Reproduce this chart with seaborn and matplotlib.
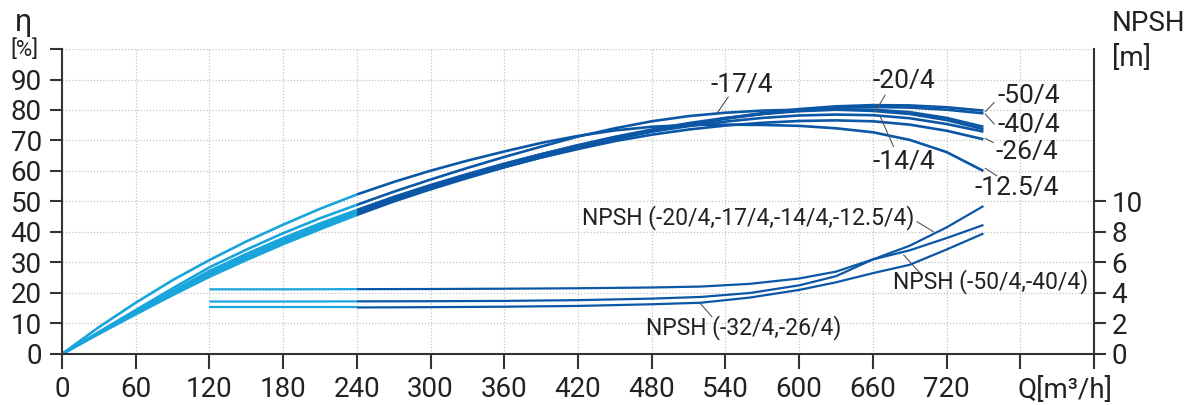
import numpy as np
import pandas as pd
import matplotlib
matplotlib.use('Agg')
import matplotlib.pyplot as plt
import seaborn as sns

# flow rate Q [m3/h]
q = [0, 30, 60, 90, 120, 150, 180, 210, 240, 270, 300, 330, 360, 390, 420,
     450, 480, 510, 540, 570, 600, 630, 660, 690, 720, 750]

# efficiency curves [%], one per impeller
eta_50 = [0, 6.6, 13.0, 19.3, 25.3, 30.8, 36.0, 40.9, 45.6, 50.0, 54.0, 57.7, 61.2, 64.5, 67.6,
          70.4, 73.0, 75.3, 77.3, 79.0, 80.3, 81.2, 81.6, 81.5, 80.9, 79.8]
eta_40 = [0, 6.7, 13.3, 19.7, 25.8, 31.3, 36.5, 41.4, 46.0, 50.4, 54.4, 58.1, 61.6, 64.8, 67.8,
          70.5, 73.0, 75.2, 77.1, 78.7, 79.9, 80.7, 81.0, 80.8, 80.1, 78.9]
eta_26 = [0, 6.8, 13.5, 20.0, 26.2, 31.8, 37.0, 41.9, 46.4, 50.6, 54.5, 58.0, 61.3, 64.4, 67.2,
          69.8, 71.9, 73.6, 74.9, 75.8, 76.4, 76.6, 76.3, 75.2, 73.2, 70.4]
eta_20 = [0, 6.9, 13.7, 20.3, 26.7, 32.3, 37.5, 42.3, 46.8, 51.1, 55.1, 58.8, 62.3, 65.5, 68.5,
          71.2, 73.6, 75.7, 77.4, 78.7, 79.6, 80.1, 80.1, 79.3, 77.4, 74.5]
eta_17 = [0, 7.2, 14.4, 21.5, 28.4, 34.2, 39.6, 44.5, 48.9, 53.2, 57.2, 61.0, 64.6, 68.0, 71.3,
          74.0, 76.3, 78.0, 79.1, 79.8, 80.1, 80.1, 79.7, 78.7, 76.7, 73.7]
eta_14 = [0, 7.0, 13.9, 20.6, 27.2, 32.8, 38.0, 42.8, 47.2, 51.5, 55.4, 59.0, 62.4, 65.5, 68.3,
          70.8, 72.9, 74.7, 76.2, 77.4, 78.2, 78.5, 78.3, 77.3, 75.4, 72.9]
eta_125 = [0, 8.8, 16.8, 24.2, 30.8, 36.9, 42.4, 47.6, 52.3, 56.4, 60.1, 63.4, 66.4, 69.2, 71.5,
           73.3, 74.5, 75.1, 75.2, 75.1, 74.8, 74.0, 72.7, 70.2, 66.2, 60.0]

# NPSH curves [m]
q_npsh = [120, 180, 240, 300, 360, 420, 480, 520, 560, 600, 630, 660, 690, 720, 750]
npsh_a = [3.44, 3.44, 3.45, 3.46, 3.48, 3.53, 3.63, 3.74, 4.0, 4.5, 5.1, 6.2, 7.1, 8.3, 9.7]
npsh_b = [4.24, 4.24, 4.25, 4.26, 4.28, 4.31, 4.36, 4.42, 4.6, 4.95, 5.4, 6.2, 6.8, 7.6, 8.46]
npsh_c = [3.05, 3.05, 3.05, 3.07, 3.10, 3.15, 3.26, 3.36, 3.7, 4.2, 4.7, 5.3, 5.85, 6.85, 7.9]

x_ticks = [0, 60, 120, 180, 240, 300, 360, 420, 480, 540, 600, 660, 720, 780, 840]
x_labels = ['0', '60', '120', '180', '240', '300', '360', '420', '480', '540', '600', '660', '720', '', '']

LIGHT = '#19a5db'
DARK = '#0b57a6'
INK = '#222222'
SPLIT = 240

sns.set_style('white')
plt.rcParams['font.family'] = ['Roboto', 'DejaVu Sans']

fig, ax = plt.subplots(figsize=(11.95, 4.05), dpi=100)
fig.subplots_adjust(left=0.0519, right=0.9155, bottom=0.126, top=0.879)
ax2 = ax.twinx()


def draw(axis, xs, ys, lw):
    df = pd.DataFrame({'Q': xs, 'v': ys})
    low = df[df.Q <= SPLIT]
    high = df[df.Q >= SPLIT]
    if len(low) > 1:
        sns.lineplot(data=low, x='Q', y='v', ax=axis, color=LIGHT, lw=lw,
                     sort=False, estimator=None, solid_capstyle='butt')
    sns.lineplot(data=high, x='Q', y='v', ax=axis, color=DARK, lw=lw,
                 sort=False, estimator=None, solid_capstyle='butt')


for curve in [eta_50, eta_40, eta_26, eta_20, eta_17, eta_14, eta_125]:
    draw(ax, q, curve, 1.9)
for curve in [npsh_a, npsh_b, npsh_c]:
    draw(ax2, q_npsh, curve, 1.6)

# axes
ax.set_xlim(0, 840)
ax.set_ylim(0, 100)
ax2.set_ylim(0, 20)
ax.set_xticks(x_ticks)
ax.set_xticklabels(x_labels)
ax.set_yticks(range(0, 101, 10))
ax.set_yticklabels([str(v) for v in range(0, 91, 10)] + [''])
ax2.set_yticks(range(0, 11, 2))
ax.set_xlabel('')
ax.set_ylabel('')
ax2.set_ylabel('')

ax.grid(True, linestyle=(0, (1, 1.5)), color='#c4c4c4', lw=0.9)
ax.set_axisbelow(True)

for a in (ax, ax2):
    a.spines['top'].set_visible(False)
    for s in a.spines.values():
        s.set_color('#333333')
        s.set_linewidth(1.5)
ax.spines['right'].set_visible(False)
ax2.spines['left'].set_visible(False)
ax2.spines['bottom'].set_visible(False)

ax.tick_params(axis='y', direction='out', length=8.5, width=1.5, color='#333333',
               labelsize=20, labelcolor=INK, pad=6, left=True)
ax.tick_params(axis='x', direction='out', length=11, width=1.5, color='#333333',
               labelsize=20, labelcolor=INK, pad=5, bottom=True)
ax2.tick_params(axis='y', direction='out', length=8.5, width=1.5, color='#333333',
                labelsize=20, labelcolor=INK, pad=4, right=True)

# axis titles
ax.text(-0.037, 1.059, 'η', transform=ax.transAxes, ha='center', va='baseline',
        fontsize=22, color=INK)
ax.text(-0.036, 0.977, '[%]', transform=ax.transAxes, ha='center', va='baseline',
        fontsize=16, color=INK)
ax.text(1.0174, 1.085, 'NPSH', transform=ax.transAxes, ha='left', va='center',
        fontsize=20, color=INK)
ax.text(1.0174, 0.97, '[m]', transform=ax.transAxes, ha='left', va='center',
        fontsize=20, color=INK)
ax.text(816, -0.12, 'Q[m³/h]', transform=ax.get_xaxis_transform(), ha='center',
        va='center', fontsize=20, color=INK)

# curve labels: text, text position, leader start, leader end (Q, eta units)
labels = [
    ('-17/4', (553.6, 88.2), (533.3, 79.0), (542.3, 84.3)),
    ('-20/4', (685.5, 89.5), (661.9, 79.4), (670.0, 84.9)),
    ('-14/4', (685.5, 63.0), (666.0, 77.8), (676.8, 68.0)),
    ('-50/4', (786.6, 84.6), (751.4, 79.4), (758.8, 82.5)),
    ('-40/4', (786.6, 75.1), (751.4, 78.7), (758.8, 75.4)),
    ('-26/4', (785.6, 66.2), (751.4, 70.7), (758.1, 69.3)),
    ('-12.5/4', (776.7, 54.4), (751.4, 60.9), (761.0, 58.4)),
]
for txt, (tx, ty), p0, p1 in labels:
    ax.plot([p0[0], p1[0]], [p0[1], p1[1]], color='#555555', lw=0.8)
    ax.text(tx, ty, txt, ha='center', va='center', fontsize=19, color=INK)

npsh_labels = [
    ('NPSH (-20/4,-17/4,-14/4,-12.5/4)', (558.5, 44.6), (695.8, 43.4), (709.3, 40.1)),
    ('NPSH (-50/4,-40/4)', (755.5, 23.7), (685.0, 32.5), (698.5, 26.5)),
    ('NPSH (-32/4,-26/4)', (555.0, 8.7), (519.4, 16.6), (529.0, 12.2)),
]
for txt, (tx, ty), p0, p1 in npsh_labels:
    ax.plot([p0[0], p1[0]], [p0[1], p1[1]], color='#555555', lw=0.8)
    ax.text(tx, ty, txt, ha='center', va='center', fontsize=16.5, color=INK)

fig.savefig('out.png', dpi=100)
